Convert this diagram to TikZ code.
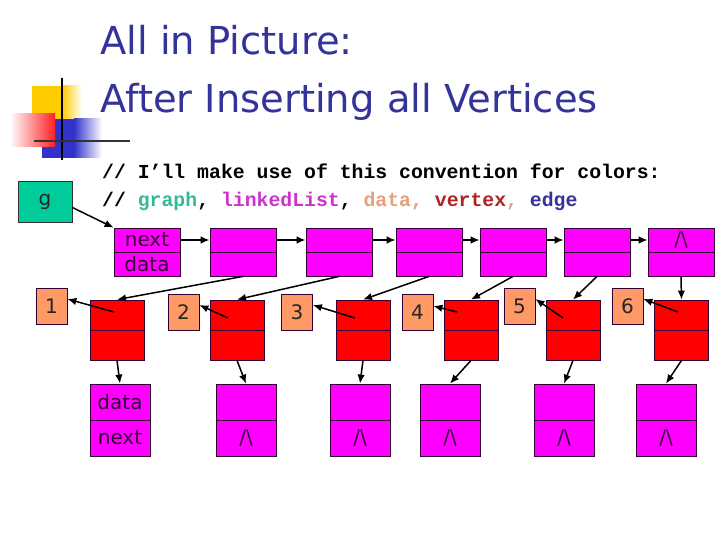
\documentclass[tikz,border=0pt]{standalone}
\usepackage{fontspec}
\setmainfont{DejaVu Sans}
\newfontfamily\codefont{Liberation Mono}
\usetikzlibrary{arrows.meta,calc}
\definecolor{titleblue}{HTML}{333399}
\definecolor{listmag}{HTML}{FF00FF}
\definecolor{listtext}{HTML}{330033}
\definecolor{vred}{HTML}{FF0000}
\definecolor{dorange}{HTML}{FF9966}
\definecolor{ggreen}{HTML}{00CC99}
\definecolor{boxline}{HTML}{330033}
\definecolor{cgraph}{HTML}{33BB99}
\definecolor{clist}{HTML}{CC33CC}
\definecolor{cdata}{HTML}{E8A07A}
\definecolor{cvertex}{HTML}{B22222}
\definecolor{cedge}{HTML}{333399}
\definecolor{decoyellow}{HTML}{FFCC00}
\definecolor{decoblue}{HTML}{3333CC}
\definecolor{decored}{HTML}{FF2020}
\begin{document}
\begin{tikzpicture}[x=1pt,y=-1pt,
  labfont/.style={font=\fontsize{20}{20}\selectfont},
  lbox/.style={draw=boxline, line width=0.8pt, fill=listmag, minimum width=66pt, minimum height=24pt, inner sep=0pt, labfont, text=listtext},
  bbox/.style={draw=boxline, line width=0.8pt, fill=listmag, minimum width=60pt, minimum height=36pt, inner sep=0pt, labfont, text=listtext},
  vbox/.style={draw=boxline, line width=0.8pt, fill=vred, minimum width=54pt, minimum height=30pt, inner sep=0pt},
  dbox/.style={draw=boxline, line width=0.8pt, fill=dorange, minimum width=31pt, minimum height=36pt, inner sep=0pt, labfont, text=black!85},
  arr/.style={-{Latex[length=9pt,width=7.5pt]}, line width=1.5pt, black},
  codetxt/.style={anchor=base west, inner sep=0pt, font=\codefont\bfseries\fontsize{19.8}{20}\selectfont},
  ttl/.style={anchor=base west, inner sep=0pt, text=titleblue, font=\fontsize{38.5}{38}\selectfont}
]
\fill[white] (0,0) rectangle (720,540);
\useasboundingbox (0,0) rectangle (720,540);
% decoration
\fill[decoyellow] (32,86) rectangle (62,119);
\shade[left color=decoyellow, right color=white] (62,86) rectangle (82,119);
\fill[decoblue] (42,119) rectangle (74,158);
\shade[left color=decoblue, right color=white] (74,119) rectangle (102,158);
\shade[left color=white, right color=decored] (10,114) rectangle (55,147);
\draw[line width=2.2pt, black] (62,78) -- (62,160);
\draw[line width=2.2pt, black!80] (34,141) -- (130,141);
% title
\node[ttl] (title1) at (100,55) {All in Picture:};
\node[ttl] (title2) at (100,113) {After Inserting all Vertices};
% code comments
\node[codetxt] (code1) at (102,179) {// I’ll make use of this convention for colors:};
\node[codetxt] (code2) at (102,207) {// \textcolor{cgraph}{graph}, \textcolor{clist}{linkedList}, \textcolor{cdata}{data,} \textcolor{cvertex}{vertex}\textcolor{cdata}{,} \textcolor{cedge}{edge}};
% graph node
\node[draw=black!80, line width=0.8pt, fill=ggreen, minimum width=54pt, minimum height=41pt, inner sep=0pt, labfont, text=black!85] (g) at (45,201.5) {g};
% top list
\foreach \i/\x in {1/147,2/243,3/339,4/429,5/513,6/597,7/681}{
  \node[lbox] (t\i u) at (\x,240) {};
  \node[lbox] (t\i l) at (\x,264) {};
}
\node[labfont, text=listtext] at (t1u) {next};
\node[labfont, text=listtext] at (t1l) {data};
\node[labfont, text=listtext] at (t7u) {/\textbackslash};
\draw[arr] ($(g.east)+(0,6)$) -- (t1u.north west);
\foreach \i/\j in {1/2,2/3,3/4,4/5,5/6,6/7}{
  \draw[arr] (t\i u.east) -- (t\j u.west);
}
% vertices
\foreach \i/\x in {1/117,2/237,3/363,4/471,5/573,6/681.5}{
  \node[vbox] (r\i u) at (\x,315) {};
  \node[vbox] (r\i l) at (\x,345) {};
}
% data labels
\node[dbox] (n1) at (51.5,306) {1};
\node[dbox] (n2) at (183.5,312) {2};
\node[dbox] (n3) at (297,312) {3};
\node[dbox] (n4) at (417.5,312) {4};
\node[dbox] (n5) at (519.5,306) {5};
\node[dbox] (n6) at (627.5,306) {6};
% bottom lists
\foreach \i/\x in {1/120,2/246,3/360,4/450,5/564,6/666}{
  \node[bbox] (b\i u) at (\x,402) {};
  \node[bbox] (b\i l) at (\x,438) {};
}
\node[labfont, text=listtext] at (b1u) {data};
\node[labfont, text=listtext] at (b1l) {next};
\foreach \i in {2,...,6}{
  \node[labfont, text=listtext] at (b\i l) {/\textbackslash};
}
% list -> vertex
\foreach \i/\j in {2/1,3/2,4/3,5/4,6/5,7/6}{
  \draw[arr] (t\i l.south) -- (r\j u.north);
}
% vertex -> data
\draw[arr] ($(r1u.center)+(-3,-3)$) -- ($(n1.east)+(0,-7)$);
\draw[arr] ($(r2u.center)+(-9,3)$) -- ($(n2.east)+(0,-7)$);
\draw[arr] ($(r3u.center)+(-8,3)$) -- ($(n3.east)+(0,-7)$);
\draw[arr] ($(r4u.center)+(-14,-3)$) -- ($(n4.east)+(0,-6)$);
\draw[arr] ($(r5u.center)+(-10,3)$) -- ($(n5.east)+(0,-7)$);
\draw[arr] ($(r6u.center)+(-3.5,-3)$) -- ($(n6.east)+(0,-7)$);
% vertex -> edge lists
\foreach \i in {1,...,6}{
  \draw[arr] (r\i l.south) -- (b\i u.north);
}
\end{tikzpicture}
\end{document}
